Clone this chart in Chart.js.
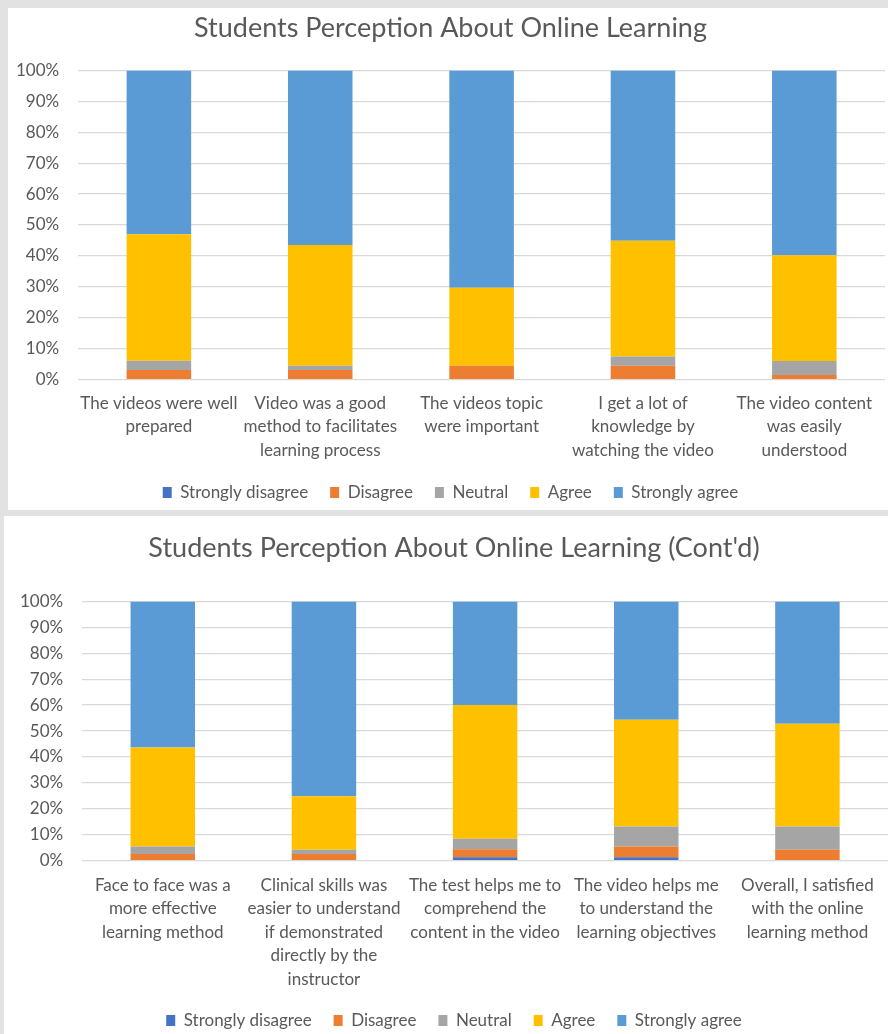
<!DOCTYPE html>
<html lang="en">
<head>
    <meta charset="UTF-8">
    <title>Students Perception About Online Learning</title>
    <style>
        html, body {
            margin: 0;
            padding: 0;
            overflow: hidden;
            background-color: #e2e2e2;
        }

        .panel {
            position: absolute;
            background-color: #ffffff;
            overflow: hidden;
        }

        #panelTop {
            left: 8px;
            top: 8px;
            width: 880px;
            height: 502px;
        }

        #panelBottom {
            left: 4px;
            top: 516px;
            width: 884px;
            height: 518px;
        }

        #wrapTop {
            position: relative;
            width: 880px;
            height: 503px;
        }

        #wrapBottom {
            position: relative;
            width: 884px;
            height: 523px;
        }
    </style>
    <script src="https://cdn.jsdelivr.net/npm/chart.js"></script>
</head>
<body>
    <div class="panel" id="panelTop"><div id="wrapTop"><canvas id="chartTop"></canvas></div></div>
    <div class="panel" id="panelBottom"><div id="wrapBottom"><canvas id="chartBottom"></canvas></div></div>
    <script>
        // legend / series names
        const seriesNames = ['Strongly disagree', 'Disagree', 'Neutral', 'Agree', 'Strongly agree'];
        const seriesColors = ['#4472c4', '#ed7d31', '#a5a5a5', '#ffc000', '#5b9bd5'];
        const yTicks = [0, 10, 20, 30, 40, 50, 60, 70, 80, 90, 100];

        // first chart (values in %)
        const topTitle = 'Students Perception About Online Learning';
        const topCategories = [
            ['The videos were well', 'prepared'],
            ['Video was a good', 'method to facilitates', 'learning process'],
            ['The videos topic', 'were important'],
            ['I get a lot of', 'knowledge by', 'watching the video'],
            ['The video content', 'was easily', 'understood']
        ];
        const topStronglyDisagree = [0, 0, 0, 0, 0];
        const topDisagree = [3.1, 3.1, 4.5, 4.5, 1.5];
        const topNeutral = [3.0, 1.4, 0, 3.0, 4.5];
        const topAgree = [40.9, 39.0, 25.2, 37.4, 34.2];
        const topStronglyAgree = [53.0, 56.5, 70.3, 55.1, 59.8];

        // second chart (values in %)
        const bottomTitle = "Students Perception About Online Learning (Cont'd)";
        const bottomCategories = [
            ['Face to face was a', 'more effective', 'learning method'],
            ['Clinical skills was', 'easier to understand', 'if demonstrated', 'directly by the', 'instructor'],
            ['The test helps me to', 'comprehend the', 'content in the video'],
            ['The video helps me', 'to understand the', 'learning objectives'],
            ['Overall, I satisfied', 'with the online', 'learning method']
        ];
        const bottomStronglyDisagree = [0, 0, 1.3, 1.3, 0];
        const bottomDisagree = [2.6, 2.6, 3.1, 4.2, 4.2];
        const bottomNeutral = [2.9, 1.6, 4.1, 7.7, 9.0];
        const bottomAgree = [38.2, 20.7, 51.5, 41.2, 39.6];
        const bottomStronglyAgree = [56.3, 75.1, 40.0, 45.6, 47.2];

        const FONT = 'Lato, sans-serif';
        const TEXT = '#595959';

        function createChart(id, title, labels, seriesData, opts) {
            const ctx = document.getElementById(id).getContext('2d');
            return new Chart(ctx, {
                type: 'bar',
                data: {
                    labels: labels,
                    datasets: seriesNames.map((name, i) => ({
                        label: name,
                        data: seriesData[i],
                        backgroundColor: seriesColors[i],
                        borderWidth: 0,
                        categoryPercentage: 1,
                        barPercentage: 0.4
                    }))
                },
                options: {
                    responsive: true,
                    maintainAspectRatio: false,
                    animation: false,
                    layout: { padding: opts.pad },
                    plugins: {
                        title: {
                            display: true,
                            text: title,
                            color: TEXT,
                            font: { family: FONT, size: 27, weight: 'normal' },
                            padding: opts.titlePad
                        },
                        legend: {
                            position: 'bottom',
                            labels: {
                                color: TEXT,
                                font: { family: FONT, size: 17 },
                                boxWidth: 9,
                                boxHeight: 11,
                                padding: 22
                            }
                        },
                        tooltip: { enabled: false }
                    },
                    scales: {
                        x: {
                            stacked: true,
                            grid: { display: false, drawTicks: false },
                            border: { display: false },
                            ticks: {
                                color: TEXT,
                                font: { family: FONT, size: 17, lineHeight: 1.38 },
                                maxRotation: 0,
                                autoSkip: false,
                                padding: opts.xPad
                            },
                            // long wrapped labels should not push the plot inwards
                            afterFit: axis => {
                                axis.paddingLeft = 0;
                                axis.paddingRight = 0;
                                axis.height -= opts.xTrim;
                            }
                        },
                        y: {
                            stacked: true,
                            min: 0,
                            max: 100,
                            afterBuildTicks: axis => {
                                axis.ticks = yTicks.map(v => ({ value: v }));
                            },
                            // chart.js reserves the tick padding on both sides, keep only the inner one
                            afterFit: axis => {
                                axis.width -= opts.yPad;
                            },
                            grid: { color: '#d9d9d9', lineWidth: 1.3, drawTicks: false },
                            border: { display: false },
                            ticks: {
                                color: TEXT,
                                font: { family: FONT, size: 17 },
                                padding: opts.yPad,
                                callback: v => v + '%'
                            }
                        }
                    }
                }
            });
        }

        window.onload = function () {
            createChart('chartTop', topTitle, topCategories,
                [topStronglyDisagree, topDisagree, topNeutral, topAgree, topStronglyAgree],
                { pad: { left: 8, right: 3, top: 0, bottom: 0 }, titlePad: { top: 4, bottom: 26 }, xPad: 12, xTrim: 12, yPad: 19 });
            createChart('chartBottom', bottomTitle, bottomCategories,
                [bottomStronglyDisagree, bottomDisagree, bottomNeutral, bottomAgree, bottomStronglyAgree],
                { pad: { left: 16, right: 0, top: 12, bottom: 0 }, titlePad: { top: 4, bottom: 37 }, xPad: 13, xTrim: 14, yPad: 19 });
        };
    </script>
</body>
</html>
